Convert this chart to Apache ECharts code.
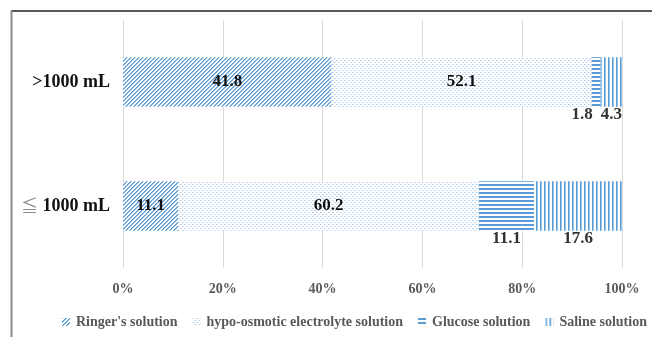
<!DOCTYPE html>
<html>
<head>
<meta charset="utf-8">
<style>
  html, body { margin: 0; padding: 0; background: #fff; }
  #chart { width: 652px; height: 337px; }
</style>
<script src="https://cdn.jsdelivr.net/npm/echarts@6/dist/echarts.min.js"></script>
</head>
<body>
<div id="chart"></div>
<script>
// Volume groups, listed bottom to top
const categories = ['\u2266 1000 mL', '>1000 mL'];
const ringer = [11.1, 41.8];
const hypoOsmotic = [60.2, 52.1];
const glucose = [11.1, 1.8];
const saline = [17.6, 4.3];
const xTicks = [0, 20, 40, 60, 80, 100];

const FONT = '"Liberation Serif", "Times New Roman", serif';

function makeTile(w, h, draw) {
  const c = document.createElement('canvas');
  c.width = w; c.height = h;
  const ctx = c.getContext('2d');
  ctx.fillStyle = '#fff';
  ctx.fillRect(0, 0, w, h);
  draw(ctx);
  return { image: c, repeat: 'repeat' };
}

// Wide upward diagonal hatch, drawn pixel by pixel so it stays crisp
const diagFill = makeTile(4, 4, ctx => {
  for (let i = 0; i < 4; i++) {
    ctx.fillStyle = '#5b9bd5';
    ctx.fillRect(3 - i, i, 1, 1);
    ctx.fillStyle = '#8dbbe6';
    ctx.fillRect((4 - i) % 4, i, 1, 1);
  }
});

// Light dotted grid
const dotFill = makeTile(4, 4, ctx => {
  ctx.fillStyle = '#a9c9ea';
  ctx.fillRect(0, 0, 1, 1);
  ctx.fillRect(2, 2, 1, 1);
  ctx.fillStyle = '#d6e5f5';
  ctx.fillRect(1, 0, 1, 1);
  ctx.fillRect(3, 2, 1, 1);
});

// Horizontal stripes
const hFill = makeTile(4, 4, ctx => {
  ctx.fillStyle = '#5b9bd5';
  ctx.fillRect(0, 0, 4, 2);
});

// Vertical stripes
const vFill = makeTile(4, 4, ctx => {
  ctx.fillStyle = '#5b9bd5';
  ctx.fillRect(0, 0, 1.6, 4);
});

const insideLabel = {
  show: true,
  position: 'inside',
  color: '#111',
  fontFamily: FONT,
  fontWeight: 'bold',
  fontSize: 17
};

const belowLabel = Object.assign({}, insideLabel, {
  position: 'bottom',
  distance: -1,
  color: '#333'
});

function seriesOf(name, data, fill, label) {
  return {
    name,
    type: 'bar',
    stack: 'total',
    barWidth: '40%',
    data,
    itemStyle: { color: fill },
    label,
    emphasis: { disabled: true }
  };
}

const glucoseData = glucose.map((v, i) => i === 1
  ? { value: v, label: { offset: [-14, 0] } }
  : v);

const chart = echarts.init(document.getElementById('chart'), null, { renderer: 'canvas' });
chart.setOption({
  animation: false,
  grid: { left: 123, right: 30, top: 20, bottom: 69 },
  xAxis: {
    type: 'value',
    min: xTicks[0],
    max: xTicks[xTicks.length - 1],
    interval: xTicks[1] - xTicks[0],
    axisLine: { show: false },
    axisTick: { show: false },
    splitLine: { lineStyle: { color: '#d9d9d9', width: 1 } },
    axisLabel: {
      formatter: '{value}%',
      color: '#595959',
      fontFamily: FONT,
      fontWeight: 'bold',
      fontSize: 14,
      margin: 14
    }
  },
  yAxis: {
    type: 'category',
    data: categories,
    axisLine: { show: false },
    axisTick: { show: false },
    axisLabel: {
      color: '#111',
      fontFamily: FONT,
      fontWeight: 'bold',
      fontSize: 18,
      margin: 13,
      formatter: v => v.charAt(0) === '\u2266'
        ? '{sym|\u2266} ' + v.slice(2)
        : v,
      rich: {
        sym: {
          color: '#8c8c8c',
          fontFamily: '"Noto Sans CJK JP", "DejaVu Sans", sans-serif',
          fontWeight: 'normal',
          fontSize: 17
        }
      }
    }
  },
  legend: {
    bottom: 3,
    left: 57,
    icon: 'rect',
    itemWidth: 8,
    itemHeight: 8,
    itemGap: 15,
    textStyle: {
      color: '#595959',
      fontFamily: FONT,
      fontWeight: 'bold',
      fontSize: 14,
      padding: [0, 0, 0, 1]
    }
  },
  graphic: [
    { type: 'line', shape: { x1: 11, y1: 11, x2: 652, y2: 11 }, style: { stroke: '#222', lineWidth: 1.5 } },
    { type: 'line', shape: { x1: 11.5, y1: 11, x2: 11.5, y2: 337 }, style: { stroke: '#8c8c8c', lineWidth: 2 } }
  ],
  series: [
    seriesOf("Ringer's solution", ringer, diagFill, insideLabel),
    seriesOf('hypo-osmotic electrolyte solution', hypoOsmotic, dotFill, insideLabel),
    seriesOf('Glucose solution', glucoseData, hFill, belowLabel),
    seriesOf('Saline solution', saline, vFill, belowLabel)
  ]
});
</script>
</body>
</html>
